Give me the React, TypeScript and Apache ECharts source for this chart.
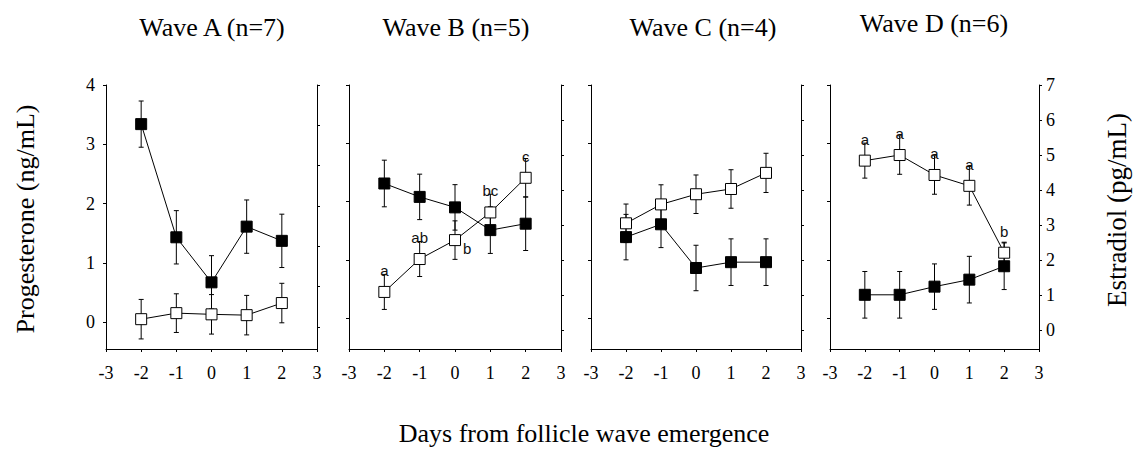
import React, { useEffect, useRef } from "react";
import * as echarts from "echarts";

const xDays = [-2, -1, 0, 1, 2];
const progTicks = [0, 1, 2, 3, 4];
const estTicksA = [0, 1, 2, 3, 4, 5, 6];
const estTicks = [0, 1, 2, 3, 4, 5, 6, 7];

const waveTitles = ["Wave A (n=7)", "Wave B (n=5)", "Wave C (n=4)", "Wave D (n=6)"];

// filled squares: progesterone (left axis); open squares: estradiol (right axis)
const progA = [3.34, 1.43, 0.67, 1.61, 1.37];
const progErrA = [0.39, 0.45, 0.45, 0.45, 0.45];
const estA = [0.19, 0.34, 0.31, 0.29, 0.59];
const estErrA = [0.49, 0.48, 0.49, 0.49, 0.49];

const progB = [2.31, 2.08, 1.9, 1.51, 1.62];
const progErrB = [0.4, 0.39, 0.39, 0.4, 0.46];
const estB = [1.09, 2.03, 2.57, 3.36, 4.35];
const estErrB = [0.5, 0.5, 0.55, 0.52, 0.55];
const lettersB = ["a", "ab", "b", "bc", "c"];

const progC = [1.39, 1.61, 0.86, 0.96, 0.96];
const progErrC = [0.39, 0.4, 0.39, 0.4, 0.4];
const estC = [3.05, 3.59, 3.88, 4.03, 4.49];
const estErrC = [0.55, 0.56, 0.55, 0.55, 0.56];

const progD = [0.4, 0.4, 0.54, 0.66, 0.89];
const progErrD = [0.4, 0.4, 0.39, 0.4, 0.4];
const estD = [4.84, 5.0, 4.43, 4.12, 2.21];
const estErrD = [0.5, 0.55, 0.55, 0.55, 0.3];
const lettersD = ["a", "a", "a", "a", "b"];

const panels = [
  { prog: progA, progErr: progErrA, est: estA, estErr: estErrA, letters: null as string[] | null },
  { prog: progB, progErr: progErrB, est: estB, estErr: estErrB, letters: lettersB },
  { prog: progC, progErr: progErrC, est: estC, estErr: estErrC, letters: null as string[] | null },
  { prog: progD, progErr: progErrD, est: estD, estErr: estErrD, letters: lettersD },
];

// layout
const grids = [
  { left: 106, width: 211 },
  { left: 349, width: 212 },
  { left: 591, width: 210 },
  { left: 830, width: 209 },
];
const progMin = [-0.455, -0.53, -0.53, -0.53];
const estMax = [6, 7, 7, 7];
const estMin = [-0.55, -0.54, -0.54, -0.54];
const titlePos = [
  [212, 27],
  [456, 27],
  [703, 27],
  [934, 23],
];

const SERIF = "Liberation Serif";
const SANS = "Liberation Sans";

function errRender(params: any, api: any) {
  const x = api.value(0);
  const lo = api.value(1);
  const hi = api.value(2);
  const pTop = api.coord([x, hi]);
  const pBot = api.coord([x, lo]);
  const w = 2.5;
  const style = { stroke: "#000", lineWidth: 1 };
  return {
    type: "group",
    children: [
      { type: "line", shape: { x1: pTop[0], y1: pTop[1], x2: pBot[0], y2: pBot[1] }, style },
      { type: "line", shape: { x1: pTop[0] - w, y1: pTop[1], x2: pTop[0] + w, y2: pTop[1] }, style },
      { type: "line", shape: { x1: pBot[0] - w, y1: pBot[1], x2: pBot[0] + w, y2: pBot[1] }, style },
    ],
  };
}

export default function App() {
  const ref = useRef<HTMLDivElement>(null);
  useEffect(() => {
    if (!ref.current) return;
    const chart = echarts.init(ref.current, null, { renderer: "svg" });

    const axisLine = { show: true, lineStyle: { color: "#000", width: 1 } };
    const tickLabel = { fontFamily: SERIF, fontSize: 18, fontWeight: "normal", color: "#000" };
    const grid: any[] = [];
    const xAxis: any[] = [];
    const yAxis: any[] = [];
    const series: any[] = [];

    panels.forEach((p, i) => {
      grid.push({ left: grids[i].left, width: grids[i].width, top: 85, height: 264 });
      xAxis.push({
        type: "value",
        gridIndex: i,
        min: -3,
        max: 3,
        interval: 1,
        axisLine: { ...axisLine, onZero: false },
        axisTick: { show: true, length: 3, inside: false, lineStyle: { color: "#000" } },
        axisLabel: { show: true, margin: 15, ...tickLabel },
        splitLine: { show: false },
      });
      yAxis.push({
        type: "value",
        gridIndex: i,
        position: "left",
        min: progMin[i],
        max: 4,
        axisLine: { ...axisLine, onZero: false },
        axisTick: { show: true, length: 3, customValues: progTicks, lineStyle: { color: "#000" } },
        axisLabel: { show: i === 0, customValues: progTicks, margin: 11, ...tickLabel },
        splitLine: { show: false },
      });
      yAxis.push({
        type: "value",
        gridIndex: i,
        position: "right",
        min: estMin[i],
        max: estMax[i],
        axisLine: { ...axisLine, onZero: false },
        axisTick: { show: true, length: 3, customValues: i === 0 ? estTicksA : estTicks, lineStyle: { color: "#000" } },
        axisLabel: { show: i === 3, customValues: estTicks, margin: 7, ...tickLabel },
        splitLine: { show: false },
      });

      // error bars
      series.push({
        type: "custom",
        xAxisIndex: i,
        yAxisIndex: 2 * i,
        renderItem: errRender,
        z: 1,
        silent: true,
        data: xDays.map((x, k) => [x, p.prog[k] - p.progErr[k], p.prog[k] + p.progErr[k]]),
      });
      series.push({
        type: "custom",
        xAxisIndex: i,
        yAxisIndex: 2 * i + 1,
        renderItem: errRender,
        z: 1,
        silent: true,
        data: xDays.map((x, k) => [x, p.est[k] - p.estErr[k], p.est[k] + p.estErr[k]]),
      });

      // estradiol (open)
      series.push({
        type: "line",
        xAxisIndex: i,
        yAxisIndex: 2 * i + 1,
        symbol: "rect",
        symbolSize: 11,
        showAllSymbol: true,
        z: 2,
        silent: true,
        lineStyle: { color: "#000", width: 1 },
        itemStyle: { color: "#fff", borderColor: "#000", borderWidth: 1 },
        data: xDays.map((x, k) => {
          const item: any = { value: [x, p.est[k]] };
          if (p.letters) {
            const special = i === 1 && k === 2;
            item.label = {
              show: true,
              formatter: p.letters[k],
              position: special ? "right" : "top",
              distance: special ? 2 : 8,
              offset: special ? [0, 8] : [0, 0],
              fontFamily: SANS,
              fontSize: 15,
              color: "#111",
            };
          }
          return item;
        }),
      });
      // progesterone (filled)
      series.push({
        type: "line",
        xAxisIndex: i,
        yAxisIndex: 2 * i,
        symbol: "rect",
        symbolSize: 11,
        showAllSymbol: true,
        z: 3,
        silent: true,
        lineStyle: { color: "#000", width: 1 },
        itemStyle: { color: "#000", borderColor: "#000", borderWidth: 1 },
        data: xDays.map((x, k) => [x, p.prog[k]]),
      });
    });

    const graphic: any[] = waveTitles.map((t, i) => ({
      type: "text",
      x: titlePos[i][0],
      y: titlePos[i][1],
      style: { text: t, font: `26px ${SERIF}`, fill: "#000", textAlign: "center", textVerticalAlign: "middle" },
    }));
    graphic.push({
      type: "text",
      x: 25,
      y: 219,
      rotation: Math.PI / 2,
      style: { text: "Progesterone (ng/mL)", font: `26px ${SERIF}`, fill: "#000", textAlign: "center", textVerticalAlign: "middle" },
    });
    graphic.push({
      type: "text",
      x: 1117,
      y: 210,
      rotation: Math.PI / 2,
      style: { text: "Estradiol (pg/mL)", font: `27px ${SERIF}`, fill: "#000", textAlign: "center", textVerticalAlign: "middle" },
    });
    graphic.push({
      type: "text",
      x: 584,
      y: 433,
      style: { text: "Days from follicle wave emergence", font: `26px ${SERIF}`, fill: "#000", textAlign: "center", textVerticalAlign: "middle" },
    });

    chart.setOption({
      animation: false,
      backgroundColor: "#fff",
      textStyle: { fontFamily: SERIF, fontSize: 18, color: "#000" },
      grid,
      xAxis,
      yAxis,
      series,
      graphic,
    });
    return () => chart.dispose();
  }, []);
  return <div ref={ref} style={{ position: "absolute", left: 0, top: 0, width: 1139, height: 449 }} />;
}
